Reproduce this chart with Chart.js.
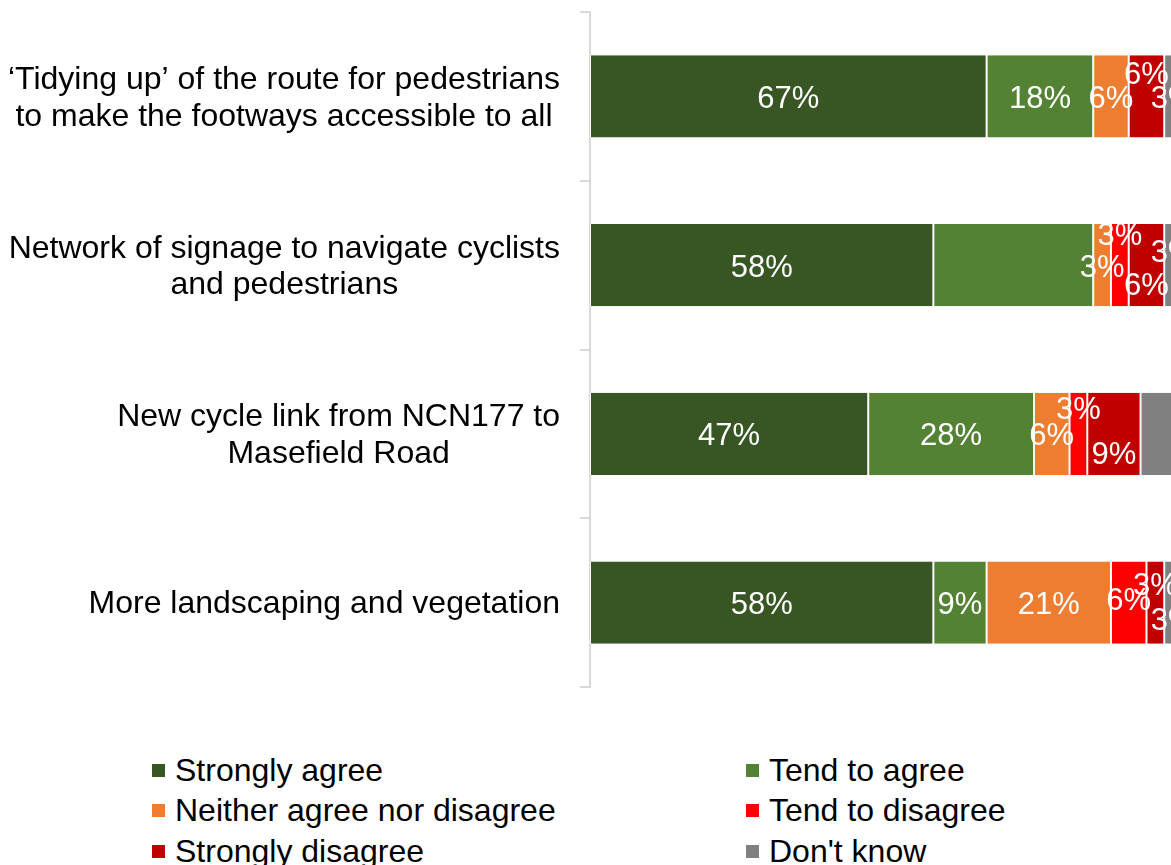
<!DOCTYPE html>
<html>
<head>
<meta charset="utf-8">
<script src="https://cdn.jsdelivr.net/npm/chart.js@4"></script>
<style>
    html, body { margin: 0; padding: 0; background: #fff; overflow: hidden; }
    body { width: 1171px; height: 865px; position: relative; font-family: "Liberation Sans", Arial, sans-serif; }
    #chartBox { position: absolute; left: 0; top: 0; width: 1190px; height: 700px; }
    #legend {
        position: absolute; left: 152px; top: 750px;
        display: grid; grid-template-columns: 594px auto; grid-auto-rows: 40.5px;
        font-size: 32px; color: #000;
    }
    .item { display: flex; align-items: center; white-space: nowrap; }
    .swatch { width: 13px; height: 13px; margin-right: 10px; flex: none; }
</style>
</head>
<body>
<div id="chartBox"><canvas id="chart"></canvas></div>
<div id="legend"></div>
<script>
// --- Data ---
const CATEGORIES = [
    ['‘Tidying up’ of the route for pedestrians', 'to make the footways accessible to all'],
    ['Network of signage to navigate cyclists', 'and pedestrians'],
    ['New cycle link from NCN177 to', 'Masefield Road'],
    ['More landscaping and vegetation']
];

const SERIES = ['Strongly agree', 'Tend to agree', 'Neither agree nor disagree',
    'Tend to disagree', 'Strongly disagree', "Don't know"];

const STRONGLY_AGREE = [67, 58, 47, 58];
const TEND_TO_AGREE = [18, 27, 28, 9];
const NEITHER = [6, 3, 6, 21];
const TEND_TO_DISAGREE = [0, 3, 3, 6];
const STRONGLY_DISAGREE = [6, 6, 9, 3];
const DONT_KNOW = [3, 3, 6, 3];

const SERIES_COLORS = ['#375623', '#548235', '#ED7D31', '#FF0000', '#C00000', '#808080'];

// vertical nudge of each value label (null = label not shown), per series then category
const LABEL_SHIFT = [
    [0, 0, 0, 0],
    [0, null, 0, 0],
    [0, 0, 0, 0],
    [0, -32, -26, -4],
    [-24, 18, 19, -19],
    [0, -15, null, 16]
];

const FONT = '"Liberation Sans", Arial, sans-serif';
const values = [STRONGLY_AGREE, TEND_TO_AGREE, NEITHER, TEND_TO_DISAGREE, STRONGLY_DISAGREE, DONT_KNOW];

// --- Plugins ---
const valueLabels = {
    id: 'valueLabels',
    afterDatasetsDraw(chart) {
        const ctx = chart.ctx;
        ctx.save();
        ctx.font = '31px ' + FONT;
        ctx.fillStyle = '#fff';
        ctx.textAlign = 'center';
        ctx.textBaseline = 'middle';
        chart.data.datasets.forEach((ds, si) => {
            const meta = chart.getDatasetMeta(si);
            meta.data.forEach((bar, i) => {
                const v = ds.data[i];
                const dy = LABEL_SHIFT[si][i];
                if (!v || dy === null) return;
                ctx.fillText(v + '%', (bar.x + bar.base) / 2, bar.y + dy + 3);
            });
        });
        ctx.restore();
    }
};

const categoryLabels = {
    id: 'categoryLabels',
    afterDraw(chart) {
        const ctx = chart.ctx;
        const y = chart.scales.y;
        const lineH = 36.8;
        const right = 560;
        ctx.save();
        ctx.font = '32px ' + FONT;
        ctx.fillStyle = '#000';
        ctx.textAlign = 'center';
        ctx.textBaseline = 'middle';
        CATEGORIES.forEach((lines, i) => {
            const widest = Math.max(...lines.map(l => ctx.measureText(l).width));
            const cx = right - widest / 2;
            const cy = y.getPixelForValue(i) + 2;
            lines.forEach((l, k) => {
                ctx.fillText(l, cx, cy + (k - (lines.length - 1) / 2) * lineH);
            });
        });
        ctx.restore();
    }
};

// --- Chart ---
new Chart(document.getElementById('chart'), {
    type: 'bar',
    data: {
        labels: CATEGORIES.map(c => c.join(' ')),
        datasets: SERIES.map((name, i) => ({
            label: name,
            data: values[i],
            backgroundColor: SERIES_COLORS[i],
            borderColor: '#fff',
            borderWidth: { left: 1, right: 1, top: 0, bottom: 0 },
            borderSkipped: false,
            barPercentage: 0.486,
            categoryPercentage: 1
        }))
    },
    options: {
        indexAxis: 'y',
        responsive: true,
        maintainAspectRatio: false,
        animation: false,
        layout: { padding: { top: 12, bottom: 13, right: 8, left: 0 } },
        plugins: { legend: { display: false }, tooltip: { enabled: false } },
        scales: {
            x: { stacked: true, min: 0, max: 100, display: false },
            y: {
                stacked: true,
                offset: true,
                afterFit(scale) { scale.width = 590; },
                ticks: { display: false },
                grid: {
                    offset: true,
                    drawOnChartArea: false,
                    drawTicks: true,
                    tickLength: 10,
                    color: '#d9d9d9',
                    lineWidth: 2
                },
                border: { display: true, color: '#d9d9d9', width: 2 }
            }
        }
    },
    plugins: [valueLabels, categoryLabels]
});

// --- Legend ---
const legend = document.getElementById('legend');
SERIES.forEach((name, i) => {
    const item = document.createElement('div');
    item.className = 'item';
    const sw = document.createElement('span');
    sw.className = 'swatch';
    sw.style.background = SERIES_COLORS[i];
    item.appendChild(sw);
    item.appendChild(document.createTextNode(name));
    legend.appendChild(item);
});
</script>
</body>
</html>
